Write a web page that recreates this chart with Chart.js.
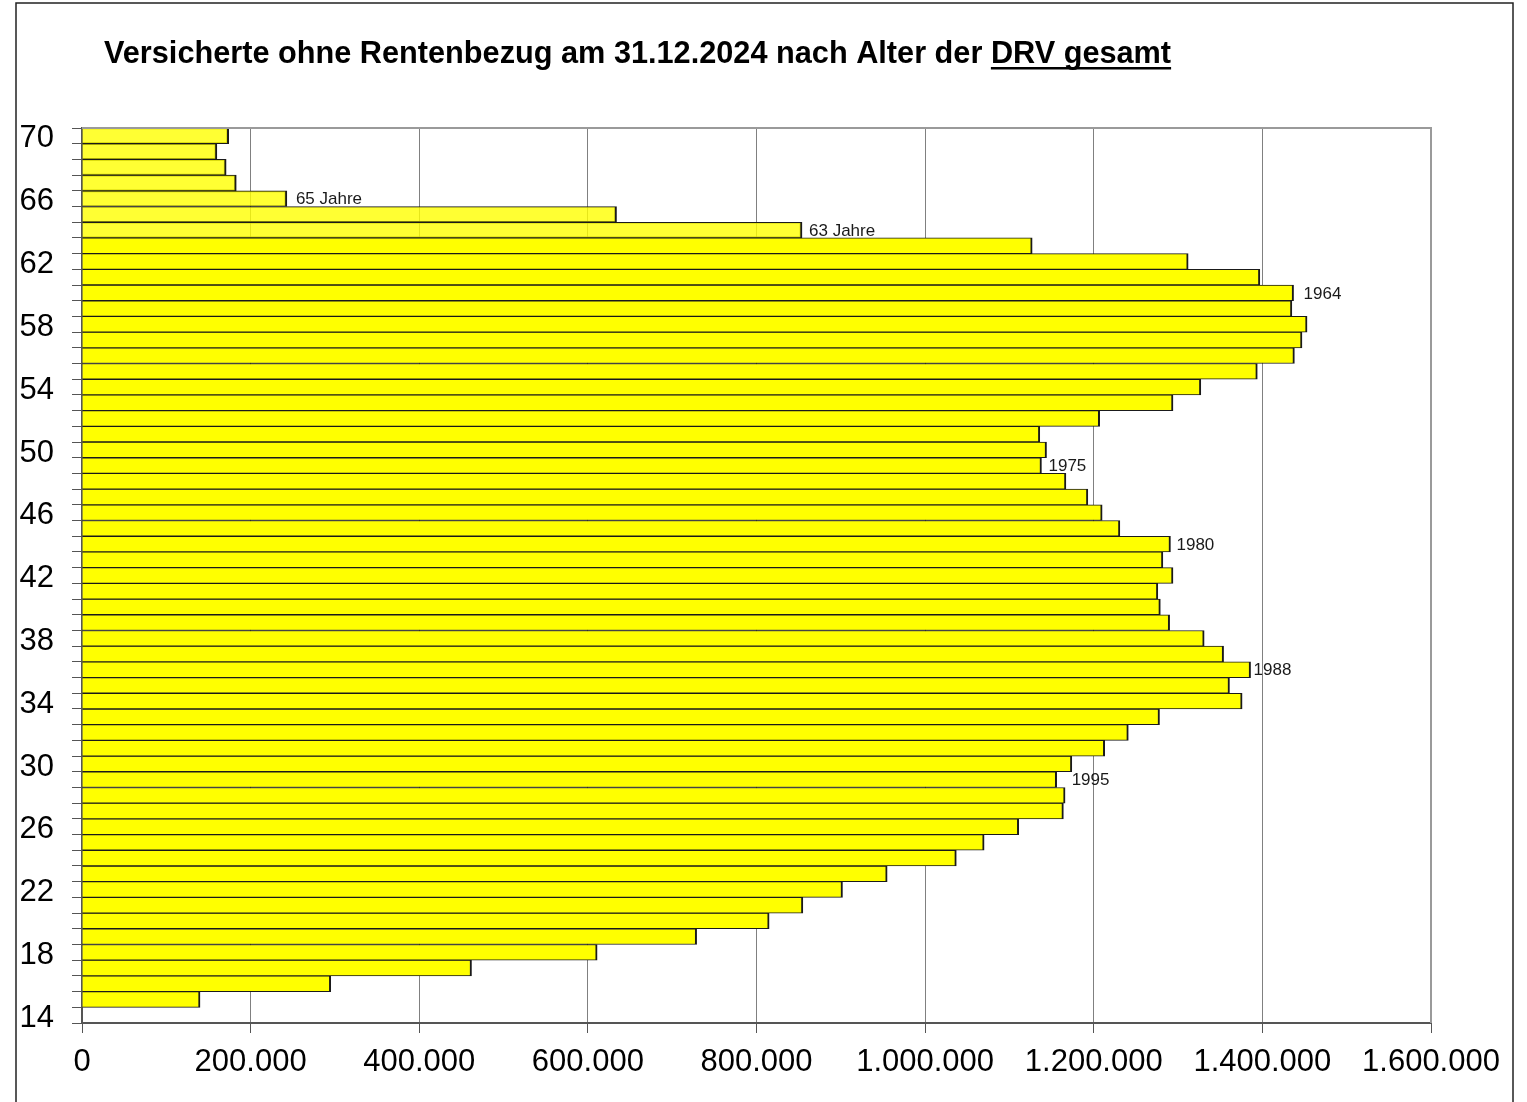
<!DOCTYPE html>
<html>
<head>
<meta charset="utf-8">
<script src="https://cdn.jsdelivr.net/npm/chart.js@4"></script>
<style>
  html, body { margin: 0; padding: 0; background: #fff; }
  #wrap { width: 1527px; height: 1102px; position: relative; }
</style>
</head>
<body>
<div id="wrap"><canvas id="c" width="1527" height="1102"></canvas></div>
<script>
// ---- data ----
const titleText = 'Versicherte ohne Rentenbezug am 31.12.2024 nach Alter der ';
const titleUnderlined = 'DRV gesamt';

const ages = [14,15,16,17,18,19,20,21,22,23,24,25,26,27,28,29,30,31,32,33,34,35,36,37,38,39,40,41,42,
              43,44,45,46,47,48,49,50,51,52,53,54,55,56,57,58,59,60,61,62,63,64,65,66,67,68,69,70];

const insured = [0,140000,295000,462000,611000,729000,815000,855000,902000,955000,1037000,1070000,1111000,1164000,
                 1166000,1156000,1174000,1213000,1241000,1278000,1376000,1361000,1386000,1354000,1331000,1290000,
                 1279000,1276000,1294000,1282000,1291000,1231000,1210000,1193000,1167000,1138000,1144000,1136000,
                 1207000,1294000,1327000,1394000,1438000,1447000,1453000,1435000,1437000,1397000,1312000,1127000,
                 854000,634000,243000,183000,171000,160000,174000];

const xTicks = [0,200000,400000,600000,800000,1000000,1200000,1400000,1600000];

const noteAges  = [66, 64, 60, 49, 44, 36, 29];
const noteTexts = ['65 Jahre', '63 Jahre', '1964', '1975', '1980', '1988', '1995'];
// ---- end data ----

const FONT = "'Liberation Sans', Arial, Helvetica, sans-serif";
const noteDx = [9, 7, 10, 7, 6, 3, 15];

function deFmt(v) {
  return String(Math.round(v)).replace(/\B(?=(\d{3})+(?!\d))/g, '.');
}

const framePlugin = {
  id: 'frame',
  beforeDraw(chart) {
    const ctx = chart.ctx;
    ctx.save();
    ctx.fillStyle = '#fff';
    ctx.fillRect(0, 0, chart.width, chart.height);
    ctx.strokeStyle = '#222';
    ctx.lineWidth = 1.5;
    ctx.strokeRect(16, 3, 1497, 1120);
    ctx.restore();
  },
  afterDraw(chart) {
    const ctx = chart.ctx;
    const a = chart.chartArea;
    ctx.save();
    // plot area top & right edge
    ctx.strokeStyle = '#9a9a9a';
    ctx.lineWidth = 2;
    ctx.beginPath();
    ctx.moveTo(a.left, a.top);
    ctx.lineTo(a.right, a.top);
    ctx.lineTo(a.right, a.bottom);
    ctx.stroke();
    // title
    ctx.fillStyle = '#000';
    ctx.font = 'bold 30.7px ' + FONT;
    ctx.textBaseline = 'alphabetic';
    ctx.textAlign = 'left';
    const tx = 104, ty = 63;
    ctx.fillText(titleText, tx, ty);
    const w1 = ctx.measureText(titleText).width;
    ctx.fillText(titleUnderlined, tx + w1, ty);
    const w2 = ctx.measureText(titleUnderlined).width;
    ctx.fillRect(tx + w1, ty + 4, w2, 2.5);
    // notes next to bars
    const meta = chart.getDatasetMeta(0);
    ctx.font = '17px ' + FONT;
    ctx.fillStyle = '#1a1a1a';
    ctx.textBaseline = 'middle';
    noteAges.forEach((age, i) => {
      const el = meta.data[ages.indexOf(age)];
      ctx.fillText(noteTexts[i], el.x + noteDx[i], el.y + 1);
    });
    ctx.restore();
  }
};

new Chart(document.getElementById('c'), {
  type: 'bar',
  data: {
    labels: ages.map(String),
    datasets: [{
      data: insured,
      backgroundColor: (c) => ages[c.dataIndex] >= 64 ? 'rgba(255,255,0,0.8)' : '#ffff00',
      borderColor: '#1a1a1a',
      borderWidth: { top: 1, bottom: 1, right: 2, left: 0 },
      borderSkipped: 'start',
      barPercentage: 1,
      categoryPercentage: 1
    }]
  },
  options: {
    indexAxis: 'y',
    responsive: false,
    animation: false,
    devicePixelRatio: 1,
    layout: { padding: { left: 16, top: 128, right: 96, bottom: 0 } },
    plugins: { legend: { display: false }, tooltip: { enabled: false }, title: { display: false } },
    scales: {
      x: {
        type: 'linear',
        min: 0,
        max: 1600000,
        afterBuildTicks: (s) => { s.ticks = xTicks.map(v => ({ value: v })); },
        afterFit: (s) => { s.height = 79; },
        grid: { color: '#808080', lineWidth: 1, tickLength: 10, tickColor: '#555', drawTicks: true },
        border: { color: '#555', width: 2 },
        ticks: {
          callback: (v) => deFmt(v),
          font: { family: FONT, size: 31 },
          color: '#000',
          padding: 11,
          maxRotation: 0,
          autoSkip: false
        }
      },
      y: {
        type: 'category',
        reverse: true,
        offset: true,
        afterFit: (s) => { s.width = 66; },
        grid: { drawOnChartArea: false, drawTicks: true, tickLength: 10, color: '#555', offset: true },
        border: { color: '#555', width: 2 },
        ticks: {
          autoSkip: false,
          callback: (v) => (ages[v] % 4 === 2 ? ['', String(ages[v])] : ''),
          font: { family: FONT, size: 31, lineHeight: 0.2 },
          color: '#000',
          padding: 18
        }
      }
    }
  },
  plugins: [framePlugin]
});
</script>
</body>
</html>
